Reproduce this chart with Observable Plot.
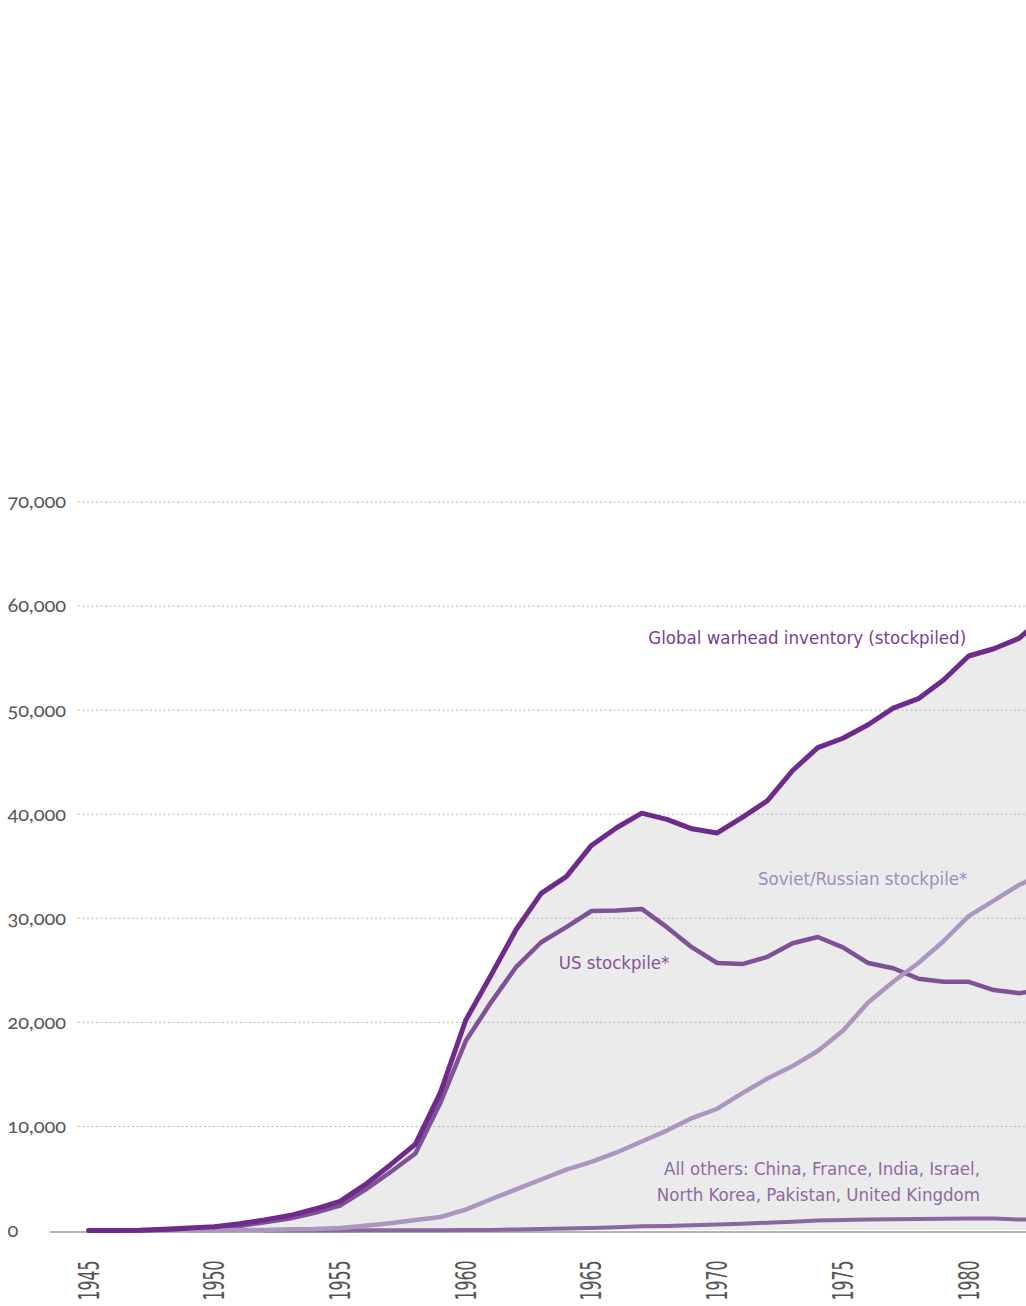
<!DOCTYPE html>
<html>
<head>
<meta charset="utf-8">
<script src="https://cdn.jsdelivr.net/npm/d3@7"></script>
<script src="https://cdn.jsdelivr.net/npm/@observablehq/plot@0.6"></script>
<style>
html, body { margin: 0; padding: 0; background: #fff; overflow: hidden; }
</style>
</head>
<body>
<div id="chart"></div>
<script>
const years = [1945,1946,1947,1948,1949,1950,1951,1952,1953,1954,1955,1956,1957,1958,1959,1960,1961,1962,1963,1964,1965,1966,1967,1968,1969,1970,1971,1972,1973,1974,1975,1976,1977,1978,1979,1980,1981,1982,1983];

const globalInventory = [6,11,32,110,235,369,640,1005,1436,2063,2800,4400,6300,8300,13300,20200,24500,28900,32400,34000,37000,38700,40100,39500,38600,38200,39700,41300,44200,46400,47300,48600,50200,51100,52900,55200,55900,56900,59000];

const usStockpile = [2,9,13,50,170,300,440,800,1150,1700,2400,3900,5600,7400,12300,18200,21900,25300,27700,29150,30700,30750,30900,29150,27200,25700,25600,26300,27600,28200,27200,25700,25200,24200,23900,23900,23100,22800,23100];

// Soviet/Russian stockpile starts 1949
const sovietYears = [1949,1950,1951,1952,1953,1954,1955,1956,1957,1958,1959,1960,1961,1962,1963,1964,1965,1966,1967,1968,1969,1970,1971,1972,1973,1974,1975,1976,1977,1978,1979,1980,1981,1982,1983];
const sovietStockpile = [1,5,25,50,120,150,250,450,700,1000,1300,2000,3000,3950,4900,5850,6600,7500,8550,9600,10800,11700,13200,14600,15800,17250,19200,21900,23900,25700,27800,30200,31700,33200,34300];

// All others start 1952
const otherYears = [1952,1953,1954,1955,1956,1957,1958,1959,1960,1961,1962,1963,1964,1965,1966,1967,1968,1969,1970,1971,1972,1973,1974,1975,1976,1977,1978,1979,1980,1981,1982,1983];
const otherStockpile = [1,1,5,10,15,20,25,30,40,60,100,150,200,250,320,400,440,500,580,650,750,850,950,1000,1050,1080,1100,1120,1150,1150,1050,1050];

const yTicks = [0,10000,20000,30000,40000,50000,60000,70000];
const gridTicks = [10000,20000,30000,40000,50000,60000,70000];
const xTicks = [1945,1950,1955,1960,1965,1970,1975,1980];

const labelGlobal = "Global warhead inventory (stockpiled)";
const labelUS = "US stockpile*";
const labelSoviet = "Soviet/Russian stockpile*";
const labelOthers = "All others: China, France, India, Israel,\nNorth Korea, Pakistan, United Kingdom";

const globalRows = years.map((year, i) => ({year, value: globalInventory[i]}));
const usRows = years.map((year, i) => ({year, value: usStockpile[i]}));
const sovietRows = sovietYears.map((year, i) => ({year, value: sovietStockpile[i]}));
const otherRows = otherYears.map((year, i) => ({year, value: otherStockpile[i]}));

const labelFont = "'Liberation Sans Narrow', 'DejaVu Sans Condensed', 'Arial Narrow', sans-serif";
const yFmt = d3.format(",");

const chart = Plot.plot({
  width: 1026,
  height: 1306,
  marginTop: 501.5,
  marginBottom: 76,
  marginLeft: 78,
  marginRight: 0,
  x: {domain: [1945, 1982.3], range: [88, 1026], axis: null},
  y: {domain: [0, 70000], axis: null},
  style: {background: "#fff"},
  marks: [
    Plot.areaY(globalRows, {x: "year", y: "value", fill: "#ebebeb"}),
    Plot.ruleY(gridTicks, {stroke: "#b4b4b4", strokeWidth: 1, strokeDasharray: "2,2.5"}),
    Plot.ruleY([0], {stroke: "#b3b3b3", strokeWidth: 2.2, dy: 1.5, insetLeft: -28}),
    Plot.text(yTicks, {
      y: d => d, text: d => yFmt(d), frameAnchor: "left", textAnchor: "start",
      dx: -71, fontSize: 20, fill: "#555", fontFamily: "Lato, 'Open Sans', sans-serif"
    }),
    Plot.text(xTicks, {
      x: d => d, text: d => String(d), frameAnchor: "bottom", rotate: -90, textAnchor: "end",
      dx: 10, dy: 30, fontSize: 28, fill: "#555", fontFamily: labelFont
    }),
    Plot.line(otherRows, {x: "year", y: "value", stroke: "#8a66a2", strokeWidth: 4, strokeLinecap: "round"}),
    Plot.line(usRows, {x: "year", y: "value", stroke: "#7f5196", strokeWidth: 4.5, strokeLinecap: "round"}),
    Plot.line(sovietRows, {x: "year", y: "value", stroke: "#ab96c0", strokeWidth: 4.5, strokeLinecap: "round"}),
    Plot.line(globalRows, {x: "year", y: "value", stroke: "#6e2b8b", strokeWidth: 5, strokeLinecap: "round"}),
    Plot.text([labelGlobal], {x: [1979.9], y: [56900], text: d => d, textAnchor: "end", fill: "#783e95", fontSize: 18.5, fontFamily: labelFont}),
    Plot.text([labelUS], {x: [1963.7], y: [25700], text: d => d, textAnchor: "start", fill: "#83559a", fontSize: 18.5, fontFamily: labelFont}),
    Plot.text([labelSoviet], {x: [1979.95], y: [33780], text: d => d, textAnchor: "end", fill: "#a38bbb", fontSize: 18.5, fontFamily: labelFont}),
    Plot.text([labelOthers], {x: [1980.45], y: [4890], text: d => d, textAnchor: "end", lineHeight: 1.4, fill: "#8d6aa3", fontSize: 18.5, fontFamily: labelFont})
  ]
});

document.getElementById("chart").appendChild(chart);

const yLabelSet = new Set(yTicks.map(yFmt));
const xLabelSet = new Set(xTicks.map(String));
d3.select(chart).selectAll("text").each(function() {
  const t = this.textContent;
  if (yLabelSet.has(t)) {
    this.style.fontVariantNumeric = "oldstyle-nums";
  } else if (xLabelSet.has(t)) {
    this.setAttribute("textLength", "40");
    this.setAttribute("lengthAdjust", "spacingAndGlyphs");
  }
});
</script>
</body>
</html>
